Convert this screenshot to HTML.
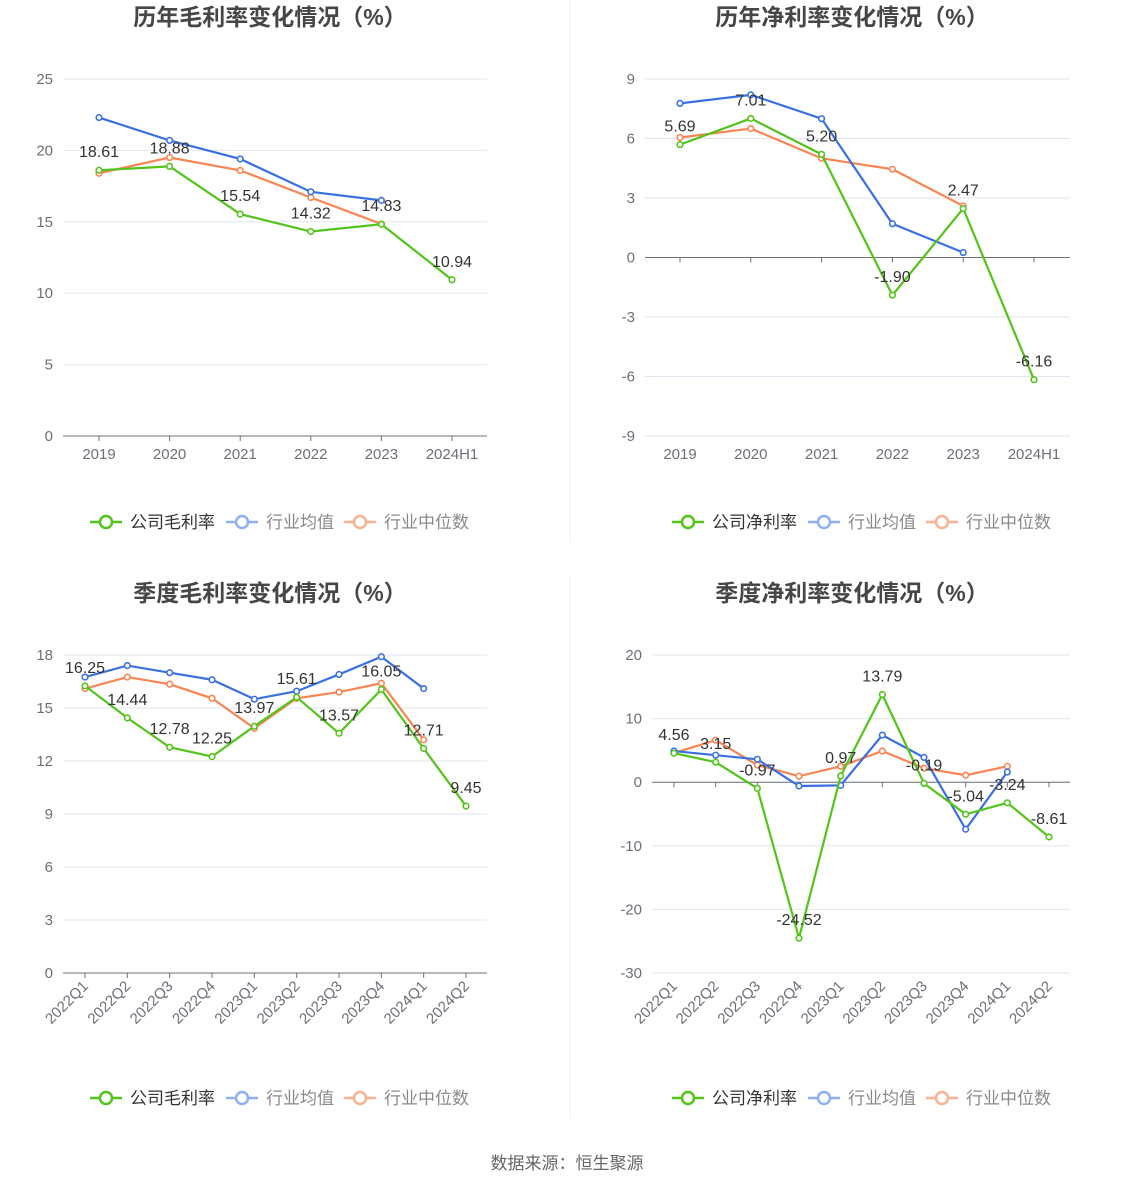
<!DOCTYPE html>
<html><head><meta charset="utf-8">
<style>
body{margin:0;background:#fff;width:1134px;height:1188px;overflow:hidden;font-family:"Liberation Sans","Noto Sans CJK SC",sans-serif;}
svg{position:absolute;left:0;top:0}
</style></head>
<body>
<svg id="s" width="1134" height="1188" font-family="Liberation Sans, Noto Sans CJK SC, sans-serif"></svg>
<script>
// Panel 1: annual gross margin
const cats1 = ["2019","2020","2021","2022","2023","2024H1"];
const comp1 = [18.61,18.88,15.54,14.32,14.83,10.94];
const avg1 = [22.3,20.7,19.4,17.1,16.5];
const med1 = [18.4,19.5,18.6,16.7,14.85];
const ticks1 = [0,5,10,15,20,25];
// Panel 2: annual net margin
const cats2 = ["2019","2020","2021","2022","2023","2024H1"];
const comp2 = [5.69,7.01,5.20,-1.90,2.47,-6.16];
const avg2 = [7.77,8.2,7.0,1.7,0.25];
const med2 = [6.05,6.5,5.0,4.45,2.6];
const ticks2 = [-9,-6,-3,0,3,6,9];
// Panel 3: quarterly gross margin
const cats3 = ["2022Q1","2022Q2","2022Q3","2022Q4","2023Q1","2023Q2","2023Q3","2023Q4","2024Q1","2024Q2"];
const comp3 = [16.25,14.44,12.78,12.25,13.97,15.61,13.57,16.05,12.71,9.45];
const avg3 = [16.75,17.4,17.0,16.6,15.5,15.95,16.9,17.9,16.1];
const med3 = [16.1,16.75,16.35,15.55,13.85,15.55,15.9,16.4,13.2];
const ticks3 = [0,3,6,9,12,15,18];
// Panel 4: quarterly net margin
const cats4 = ["2022Q1","2022Q2","2022Q3","2022Q4","2023Q1","2023Q2","2023Q3","2023Q4","2024Q1","2024Q2"];
const comp4 = [4.56,3.15,-0.97,-24.52,0.97,13.79,-0.19,-5.04,-3.24,-8.61];
const avg4 = [4.9,4.25,3.6,-0.6,-0.5,7.4,3.9,-7.4,1.6];
const med4 = [4.6,6.6,2.7,0.95,2.5,4.9,2.2,1.1,2.5];
const ticks4 = [-30,-20,-10,0,10,20];

const NS="http://www.w3.org/2000/svg";
const svg=document.getElementById('s');
function mk(tag,attrs,parent,text){const e=document.createElementNS(NS,tag);for(const k in attrs)e.setAttribute(k,attrs[k]);if(text!==undefined)e.textContent=text;(parent||svg).appendChild(e);return e;}

function panel(o){
  const g=mk('g',{});
  
  
  const t=mk('text',{x:o.cx,y:o.titleY,'text-anchor':'middle','font-size':23,'font-weight':'bold',fill:'#464646'},g,o.title);
  
  
  const min=o.ticks[0],max=o.ticks[o.ticks.length-1];
  const y=v=>o.yBot-(v-min)/(max-min)*(o.yBot-o.yTop);
  const n=o.cats.length;
  const x=i=>o.x0+i*(o.x1-o.x0)/(n-1);
  o.ticks.forEach(v=>{
    const gl=mk('line',{x1:o.gl,x2:o.gr,y1:y(v),y2:y(v),stroke:'#e0e6f1','stroke-width':1},g);
    
    
    const tl=mk('text',{x:o.gl-10,y:y(v)+5,'text-anchor':'end','font-size':15,fill:'#6e7079'},g,String(v));
    
    
  });
  const ay=y(0);
  const ax=mk('line',{x1:o.gl,x2:o.gr,y1:ay,y2:ay,stroke:'#6e7079','stroke-width':1},g);
  
  
  o.cats.forEach((c,i)=>{
    mk('line',{x1:x(i),x2:x(i),y1:ay,y2:ay+5,stroke:'#6e7079'},g);
    let lbl;
    if(o.rot){
      const lx=x(i)+4,ly=o.yBot+14;
      lbl=mk('text',{x:lx,y:ly,'text-anchor':'end','font-size':15,fill:'#6e7079',transform:`rotate(-45 ${lx} ${ly})`},g,c);
    } else {
      lbl=mk('text',{x:x(i),y:o.yBot+23,'text-anchor':'middle','font-size':15,fill:'#6e7079'},g,c);
    }
    
    
  });
  const series=[[o.med,'#fa8552','median-line'],[o.avg,'#3a70e2','average-line'],[o.comp,'#52c41a','company-line']];
  series.forEach(([d,col,nm])=>{
    const pts=d.map((v,i)=>x(i)+','+y(v)).join(' ');
    const pl=mk('polyline',{points:pts,fill:'none',stroke:col,'stroke-width':2.2},g);
    
    
    d.forEach((v,i)=>{
      const c=mk('circle',{cx:x(i),cy:y(v),r:2.8,fill:'#fff',stroke:col,'stroke-width':1.6},g);
      
      
    });
  });
  o.comp.forEach((v,i)=>{
    const l=mk('text',{x:x(i),y:y(v)-13,'text-anchor':'middle','font-size':16,fill:'#333'},g,v.toFixed(2));
    
    
  });
  const lx=o.cx-180, ly=o.legY;
  const items=[[o.legend,'#52c41a','#333'],['行业均值','#8fb0f5','#8a8a8a'],['行业中位数','#fbb293','#8a8a8a']];
  const offs=[0,136,254];
  items.forEach(([t,col,tc],k)=>{
    const ig=mk('g',{},g);
    
    
    const bx=lx+offs[k];
    mk('line',{x1:bx,x2:bx+32,y1:ly,y2:ly,stroke:col,'stroke-width':2.5},ig);
    mk('circle',{cx:bx+16,cy:ly,r:6,fill:'#fff',stroke:col,'stroke-width':2.5},ig);
    mk('text',{x:bx+40,y:ly+6,'font-size':17,fill:tc},ig,t);
  });
}
panel({name:'annual-gross-margin-chart',title:'历年毛利率变化情况（%）',cx:270,titleY:25,cats:cats1,comp:comp1,avg:avg1,med:med1,ticks:ticks1,yTop:79,yBot:436,x0:99,x1:452,gl:63,gr:487,legY:522,legend:'公司毛利率'});
panel({name:'annual-net-margin-chart',title:'历年净利率变化情况（%）',cx:852,titleY:25,cats:cats2,comp:comp2,avg:avg2,med:med2,ticks:ticks2,yTop:79,yBot:436,x0:680,x1:1034,gl:645,gr:1070,legY:522,legend:'公司净利率'});
panel({name:'quarterly-gross-margin-chart',title:'季度毛利率变化情况（%）',cx:270,titleY:601,cats:cats3,comp:comp3,avg:avg3,med:med3,ticks:ticks3,yTop:655,yBot:973,x0:85,x1:466,gl:63,gr:487,legY:1098,legend:'公司毛利率',rot:true});
panel({name:'quarterly-net-margin-chart',title:'季度净利率变化情况（%）',cx:852,titleY:601,cats:cats4,comp:comp4,avg:avg4,med:med4,ticks:ticks4,yTop:655,yBot:973,x0:674,x1:1049,gl:652,gr:1070,legY:1098,legend:'公司净利率',rot:true});
const d1=mk('line',{x1:570,x2:570,y1:0,y2:542,stroke:'#eee'});


const d2=mk('line',{x1:570,x2:570,y1:575,y2:1118,stroke:'#eee'});


const src=mk('text',{x:567,y:1169,'text-anchor':'middle','font-size':17,fill:'#666'},svg,'数据来源：恒生聚源');


</script>
</body></html>
